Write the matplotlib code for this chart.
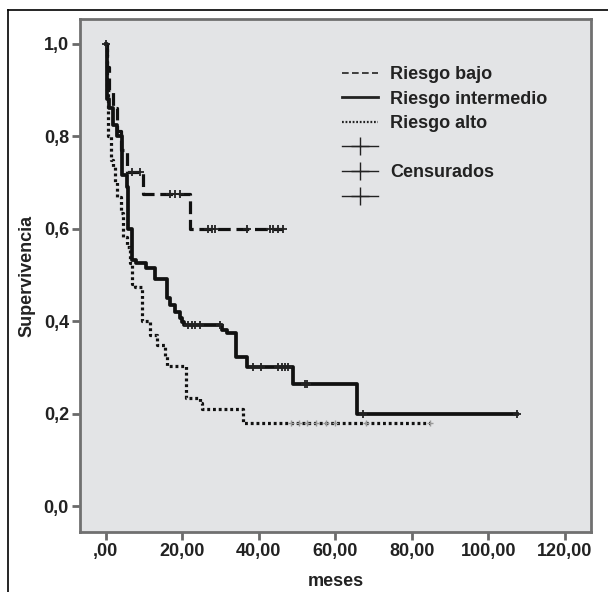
import matplotlib.pyplot as plt
from matplotlib.lines import Line2D
import numpy as np

plt.rcParams['font.family'] = ['Liberation Sans', 'DejaVu Sans']
plt.rcParams['font.weight'] = 'bold'

# datos (tiempo en meses, supervivencia tras cada caida)
bajo_t = [0, 0.3, 1.0, 2.0, 3.0, 4.0, 5.5, 9.8, 22.0, 46.3]
bajo_s = [1.0, 0.95, 0.90, 0.86, 0.81, 0.77, 0.723, 0.675, 0.60, 0.60]
bajo_cens = [6.8, 9.0, 16.8, 18.1, 19.4, 26.7, 27.7, 28.6, 36.8, 43.0, 43.7, 45.0, 46.3]

inter_t = [0, 0.3, 1.0, 2.0, 3.0, 4.2, 5.5, 5.9, 6.8, 8.0, 10.6, 12.9, 15.9, 16.8,
           18.1, 19.4, 19.9, 20.5, 30.3, 31.6, 34.0, 36.8, 49.0, 65.7, 107.4]
inter_s = [1.0, 0.88, 0.86, 0.824, 0.80, 0.716, 0.69, 0.60, 0.532, 0.525, 0.515, 0.49,
           0.449, 0.435, 0.42, 0.406, 0.398, 0.391, 0.381, 0.375, 0.323, 0.301, 0.265,
           0.20, 0.20]
inter_cens = [0.0, 21.6, 22.5, 23.4, 24.6, 29.8, 38.5, 40.7, 45.1, 46.0, 46.8, 47.7,
              52.1, 52.5, 67.3, 107.4]

alto_t = [0, 0.3, 0.5, 0.7, 1.5, 2.0, 2.5, 3.0, 4.0, 4.5, 5.5, 6.4, 7.0, 7.7, 9.4, 9.6,
          11.6, 13.3, 15.5, 15.9, 21.0, 24.6, 25.1, 36.0, 84.7]
alto_s = [1.0, 0.90, 0.85, 0.80, 0.748, 0.734, 0.70, 0.669, 0.633, 0.582, 0.561, 0.525,
          0.48, 0.474, 0.463, 0.40, 0.37, 0.348, 0.324, 0.303, 0.233, 0.222, 0.209,
          0.18, 0.18]
alto_cens = [48.5, 50.5, 52.5, 55.0, 57.5, 60.0, 68.0, 84.7]

x_ticks = [0, 20, 40, 60, 80, 100, 120]
x_labels = [',00', '20,00', '40,00', '60,00', '80,00', '100,00', '120,00']
y_ticks = [0.0, 0.2, 0.4, 0.6, 0.8, 1.0]
y_labels = ['0,0', '0,2', '0,4', '0,6', '0,8', '1,0']


def surv_at(t, s, c):
    idx = np.searchsorted(t, c, side='right') - 1
    return np.array(s)[idx]


fig = plt.figure(figsize=(6.08, 5.92), dpi=100)
ax = fig.add_axes([80 / 608, 1 - 532 / 592, 511 / 608, 513 / 592])
ax.set_facecolor('#e3e4e6')

# marco exterior (solo arriba e izquierda)
fig.add_artist(Line2D([8 / 608, 1], [1 - 10 / 592, 1 - 10 / 592], color='black', lw=1.2))
fig.add_artist(Line2D([8 / 608, 8 / 608], [0, 1 - 10 / 592], color='black', lw=1.2))

ax.step(bajo_t, bajo_s, where='post', color='#111111', lw=2.3, ls=(0, (4, 1.8)))
ax.step(inter_t, inter_s, where='post', color='#111111', lw=2.7)
ax.step(alto_t, alto_s, where='post', color='#111111', lw=2.3, ls=(0, (0.9, 0.9)))

ax.plot(bajo_cens, surv_at(bajo_t, bajo_s, bajo_cens), ls='none', marker='+',
        ms=6, mew=1.3, color='#222222')
ax.plot(inter_cens, surv_at(inter_t, inter_s, inter_cens), ls='none', marker='+',
        ms=6, mew=1.3, color='#222222')
ax.plot(alto_cens, surv_at(alto_t, alto_s, alto_cens), ls='none', marker='+',
        ms=5, mew=1.0, color='#999999')

ax.set_xlim(-6.7, 126.8)
ax.set_ylim(-0.056, 1.053)
ax.set_xticks(x_ticks)
ax.set_xticklabels(x_labels)
ax.set_yticks(y_ticks)
ax.set_yticklabels(y_labels)
ax.tick_params(direction='out', length=6, width=2, color='#6a6a6a',
               labelsize=13, labelcolor='#222222', pad=2)
for sp in ax.spines.values():
    sp.set_color('#707070')
    sp.set_linewidth(2)

ax.set_xlabel('meses', fontsize=13, fontweight='bold', color='#222222', labelpad=9)
ax.set_ylabel('Supervivencia', fontsize=13, fontweight='bold', color='#222222', labelpad=6)

handles = [
    Line2D([], [], color='#222222', lw=1.2, ls=(0, (4, 2))),
    Line2D([], [], color='#222222', lw=2.0),
    Line2D([], [], color='#222222', lw=1.6, ls=(0, (0.8, 0.8))),
    Line2D([], [], color='#222222', lw=1.0, marker='+', ms=13, mew=1.0),
    Line2D([], [], color='#222222', lw=1.0, marker='+', ms=13, mew=1.0),
    Line2D([], [], color='#222222', lw=1.0, marker='+', ms=13, mew=1.0),
]
labels = ['Riesgo bajo', 'Riesgo intermedio', 'Riesgo alto', '', 'Censurados', '']
leg = ax.legend(handles, labels, loc='upper left', bbox_to_anchor=(0.48, 0.94),
                frameon=False, fontsize=13, handlelength=2.0, handletextpad=0.7,
                labelspacing=0.42)
for t in leg.get_texts():
    t.set_color('#222222')
    t.set_fontweight('bold')

fig.savefig('out.png', dpi=100)
